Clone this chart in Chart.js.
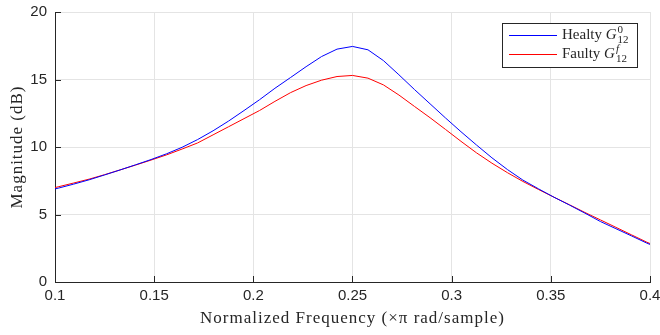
<!DOCTYPE html>
<html>
<head>
<meta charset="utf-8">
<script src="https://cdn.jsdelivr.net/npm/chart.js@4.4.0/dist/chart.umd.min.js"></script>
<style>
  html, body { margin: 0; padding: 0; background: #fff; }
</style>
</head>
<body>
<canvas id="magChart" width="660" height="335"></canvas>
<script>
// ------------------------------------------------
// Data
// ------------------------------------------------

// frequency samples (x pi rad/sample), k/128
const freq = [
    0.09375, 0.1016, 0.1094, 0.1172, 0.125, 0.1328, 0.1406, 0.1484, 0.1563, 0.1641,
    0.1719, 0.1797, 0.1875, 0.1953, 0.2031, 0.2109, 0.2188, 0.2266, 0.2344, 0.2422,
    0.25, 0.2578, 0.2656, 0.2734, 0.2813, 0.2891, 0.2969, 0.3047, 0.3125, 0.3203,
    0.3281, 0.3359, 0.3438, 0.3516, 0.3594, 0.3672, 0.375, 0.3828, 0.3906, 0.3984,
    0.4063
];

// Healty G12^0 (dB)
const healthy = [
    6.68, 6.95, 7.25, 7.57, 7.93, 8.30, 8.68, 9.07, 9.50, 9.98,
    10.55, 11.20, 11.92, 12.70, 13.50, 14.35, 15.15, 15.95, 16.70, 17.25,
    17.45, 17.20, 16.40, 15.35, 14.25, 13.20, 12.15, 11.13, 10.15, 9.20,
    8.33, 7.55, 6.90, 6.28, 5.70, 5.10, 4.48, 3.95, 3.42, 2.88,
    2.40
];

// Faulty G12^f (dB)
const faulty = [
    6.78, 7.05, 7.33, 7.62, 7.95, 8.30, 8.66, 9.03, 9.42, 9.85,
    10.30, 10.90, 11.50, 12.10, 12.70, 13.38, 14.03, 14.55, 14.95, 15.22,
    15.30, 15.10, 14.60, 13.85, 13.00, 12.17, 11.30, 10.42, 9.57, 8.80,
    8.10, 7.45, 6.85, 6.28, 5.72, 5.15, 4.60, 4.05, 3.50, 2.95,
    2.45
];

const xTicks = [0.1, 0.15, 0.2, 0.25, 0.3, 0.35, 0.4];
const xTickLabels = ['0.1', '0.15', '0.2', '0.25', '0.3', '0.35', '0.4'];
const yTicks = [0, 5, 10, 15, 20];
const yTickLabels = ['0', '5', '10', '15', '20'];

const xTitle = 'Normalized Frequency (\u00d7\u03c0 rad/sample)';
const yTitle = 'Magnitude (dB)';

const AXIS_COLOR = '#262626';
const GRID_COLOR = '#e4e4e4';
const TICK_FONT = { family: 'Liberation Sans, Arial, sans-serif', size: 15 };
const SERIF = '"Liberation Serif", "DejaVu Serif", serif';

// ------------------------------------------------
// Plugin: inward ticks, axis titles, legend with sub/superscripts
// ------------------------------------------------
const matlabLook = {
    id: 'matlabLook',
    afterDraw(chart) {
        const { ctx, chartArea: a, scales } = chart;
        ctx.save();

        // inward tick marks
        ctx.strokeStyle = AXIS_COLOR;
        ctx.lineWidth = 1;
        ctx.beginPath();
        xTicks.forEach(v => {
            const px = Math.round(scales.x.getPixelForValue(v)) + 0.5;
            ctx.moveTo(px, a.bottom);
            ctx.lineTo(px, a.bottom - 6);
        });
        yTicks.forEach(v => {
            const py = Math.round(scales.y.getPixelForValue(v)) + 0.5;
            ctx.moveTo(a.left, py);
            ctx.lineTo(a.left + 6, py);
        });
        ctx.stroke();

        // axis titles
        ctx.fillStyle = AXIS_COLOR;
        ctx.font = '17px ' + SERIF;
        ctx.letterSpacing = '1px';
        ctx.textAlign = 'center';
        ctx.textBaseline = 'alphabetic';
        ctx.fillText(xTitle, (a.left + a.right) / 2, 323);

        ctx.save();
        ctx.translate(22, (a.top + a.bottom) / 2);
        ctx.rotate(-Math.PI / 2);
        ctx.fillText(yTitle, 0, 0);
        ctx.restore();
        ctx.letterSpacing = '0px';

        // legend
        const bx = 502.5, by = 23.5, bw = 135, bh = 44;
        ctx.fillStyle = '#fff';
        ctx.fillRect(bx, by, bw, bh);
        ctx.strokeStyle = AXIS_COLOR;
        ctx.strokeRect(bx, by, bw, bh);

        const rows = [
            { label: 'Healty ', sup: '0', supItalic: false, color: '#0000ff', y: 35 },
            { label: 'Faulty ', sup: 'f', supItalic: true, color: '#ff0000', y: 54 }
        ];
        rows.forEach(r => {
            ctx.strokeStyle = r.color;
            ctx.beginPath();
            ctx.moveTo(509, r.y + 0.5);
            ctx.lineTo(557, r.y + 0.5);
            ctx.stroke();

            ctx.fillStyle = AXIS_COLOR;
            ctx.textAlign = 'left';
            ctx.font = '15px ' + SERIF;
            let x = 562;
            const base = r.y + 4;
            ctx.fillText(r.label, x, base);
            x += ctx.measureText(r.label).width;
            ctx.font = 'italic 15px ' + SERIF;
            ctx.fillText('G', x, base);
            x += ctx.measureText('G').width + 1;
            ctx.font = (r.supItalic ? 'italic ' : '') + '11px ' + SERIF;
            ctx.fillText(r.sup, x, base - 6);
            ctx.font = '11px ' + SERIF;
            ctx.fillText('12', x, base + 4);
        });

        ctx.restore();
    }
};

// ------------------------------------------------
// Chart
// ------------------------------------------------
const ctx = document.getElementById('magChart');

new Chart(ctx, {
    type: 'line',
    data: {
        datasets: [
            {
                label: 'Healty',
                data: freq.map((f, i) => ({ x: f, y: healthy[i] })),
                borderColor: '#0000ff',
                borderWidth: 1,
                pointRadius: 0,
                tension: 0,
                fill: false
            },
            {
                label: 'Faulty',
                data: freq.map((f, i) => ({ x: f, y: faulty[i] })),
                borderColor: '#ff0000',
                borderWidth: 1,
                pointRadius: 0,
                tension: 0,
                fill: false
            }
        ]
    },
    options: {
        responsive: false,
        animation: false,
        layout: {
            padding: { top: 12, right: 10, left: 0, bottom: 0 }
        },
        plugins: {
            legend: { display: false },
            tooltip: { enabled: false }
        },
        scales: {
            x: {
                type: 'linear',
                min: 0.1,
                max: 0.4,
                afterBuildTicks: s => { s.ticks = xTicks.map(v => ({ value: v })); },
                afterFit: s => {
                    s.height = 53;
                    s.paddingLeft = 0;
                    s.paddingRight = 0;
                },
                grid: { color: GRID_COLOR, drawTicks: false },
                border: { color: AXIS_COLOR, width: 1 },
                ticks: {
                    padding: 5,
                    color: AXIS_COLOR,
                    font: TICK_FONT,
                    maxRotation: 0,
                    callback: (v, i) => xTickLabels[i]
                }
            },
            y: {
                min: 0,
                max: 20,
                afterBuildTicks: s => { s.ticks = yTicks.map(v => ({ value: v })); },
                afterFit: s => {
                    s.width = 55;
                    s.paddingTop = 0;
                    s.paddingBottom = 0;
                },
                grid: { color: GRID_COLOR, drawTicks: false },
                border: { color: AXIS_COLOR, width: 1 },
                ticks: {
                    padding: 8,
                    color: AXIS_COLOR,
                    font: TICK_FONT,
                    callback: (v, i) => yTickLabels[i]
                }
            }
        }
    },
    plugins: [matlabLook]
});
</script>
</body>
</html>
